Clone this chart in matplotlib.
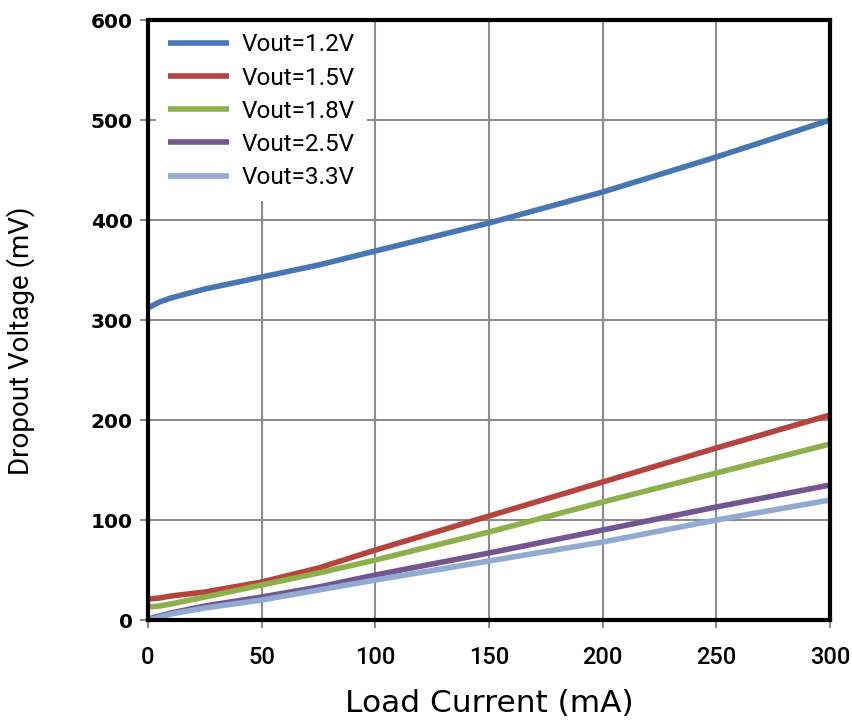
import matplotlib
matplotlib.use("Agg")
import matplotlib.pyplot as plt
import numpy as np

plt.rcParams['font.family'] = ['Roboto', 'DejaVu Sans']

# load current (mA)
current = [0, 5, 10, 25, 50, 75, 100, 150, 200, 250, 300]

vout_12 = [312, 318, 322, 331, 343, 355, 369, 397, 428, 463, 500]
vout_15 = [21, 22, 24, 28, 38, 52, 70, 104, 138, 172, 205]
vout_18 = [13, 14, 16, 23, 35, 47, 60, 88, 118, 147, 176]
vout_25 = [1, 4, 7, 14, 23, 33, 45, 67, 90, 113, 135]
vout_33 = [0, 3, 6, 12, 20, 30, 40, 59, 78, 100, 120]

labels = ["Vout=1.2V", "Vout=1.5V", "Vout=1.8V", "Vout=2.5V", "Vout=3.3V"]
colors = ["#4676B4", "#B5443F", "#8EB04A", "#735690", "#90AAD2"]

fig = plt.figure(figsize=(8.53, 7.25), dpi=100)
ax = fig.add_axes([0.1735, 0.1448, 0.7995, 0.8276])

for ys, lab, c in zip([vout_12, vout_15, vout_18, vout_25, vout_33], labels, colors):
    ax.plot(current, ys, color=c, lw=4, label=lab, solid_capstyle='butt')

ax.set_xlim(0, 300)
ax.set_ylim(0, 600)
ax.set_xticks(np.arange(0, 301, 50))
ax.set_yticks(np.arange(0, 601, 100))
ax.grid(True, color="#8c8c8c", lw=1.5)
ax.set_axisbelow(True)

for s in ax.spines.values():
    s.set_color("black")
    s.set_linewidth(3)
    s.set_zorder(3)

ax.tick_params(axis='both', direction='out', length=6, width=1.5, color="#8c8c8c")
ax.tick_params(axis='x', pad=13)
ax.tick_params(axis='y', pad=5)
for t in ax.get_xticklabels():
    t.set_fontsize(17)
    t.set_fontweight('medium')
for t in ax.get_yticklabels():
    t.set_family('DejaVu Sans')
    t.set_fontsize(14.5)
    t.set_fontweight('bold')

ax.set_xlabel("Load Current (mA)", fontsize=22.5, family='DejaVu Sans', labelpad=14)
ax.set_ylabel("Dropout Voltage (mV)", fontsize=20)
ax.yaxis.set_label_coords(-0.165, 0.465)

leg = ax.legend(loc='upper left', bbox_to_anchor=(0.012, 0.998), fontsize=17.5,
                frameon=True, handlelength=2.5, handletextpad=0.5,
                labelspacing=0.42, borderaxespad=0, borderpad=0.5)
leg.get_frame().set_edgecolor('none')
leg.get_frame().set_facecolor('white')
leg.get_frame().set_alpha(1)
leg.get_frame().set_boxstyle('square', pad=0)
leg.set_zorder(2.5)

fig.savefig("out.png", dpi=100)
